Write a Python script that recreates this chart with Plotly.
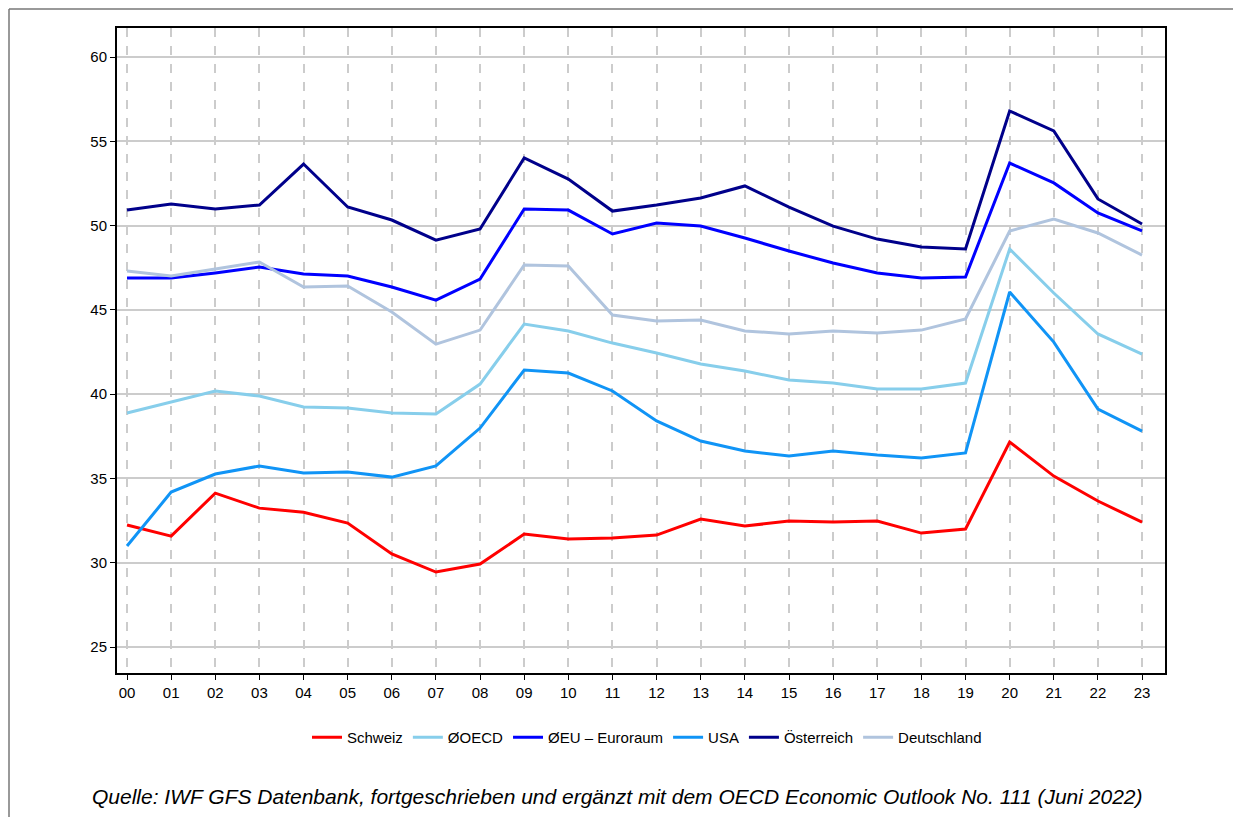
import plotly.graph_objects as go

years = ["00","01","02","03","04","05","06","07","08","09","10","11",
         "12","13","14","15","16","17","18","19","20","21","22","23"]

schweiz = [32.24,31.58,34.13,33.24,33.00,32.35,30.52,29.45,29.92,31.70,31.41,31.47,
           31.64,32.59,32.18,32.47,32.41,32.47,31.76,32.00,37.16,35.14,33.66,32.41]
oecd = [38.88,39.53,40.19,39.89,39.24,39.18,38.88,38.82,40.60,44.16,43.75,43.03,
        42.44,41.79,41.37,40.84,40.66,40.30,40.30,40.66,48.61,46.00,43.57,42.38]
eu = [46.89,46.89,47.19,47.54,47.13,47.01,46.36,45.58,46.83,50.98,50.92,49.50,
      50.15,49.97,49.26,48.49,47.78,47.19,46.89,46.95,53.71,52.53,50.75,49.68]
usa = [30.99,34.19,35.26,35.74,35.32,35.38,35.08,35.74,37.99,41.43,41.25,40.19,
       38.41,37.22,36.63,36.33,36.63,36.39,36.21,36.51,46.06,43.09,39.12,37.81]
oesterreich = [50.92,51.28,50.98,51.22,53.65,51.10,50.33,49.14,49.80,54.01,52.76,50.86,
               51.22,51.64,52.35,51.10,49.97,49.20,48.73,48.61,56.80,55.61,51.58,50.09]
deutschland = [47.31,47.01,47.42,47.84,46.36,46.42,44.87,42.97,43.80,47.66,47.60,44.69,
               44.34,44.40,43.75,43.57,43.75,43.63,43.80,44.46,49.68,50.39,49.56,48.25]

series = [
    ("Schweiz", schweiz, "#ff0000"),
    ("ØOECD", oecd, "#87ceeb"),
    ("ØEU – Euroraum", eu, "#0000ff"),
    ("USA", usa, "#1094f6"),
    ("Österreich", oesterreich, "#00008b"),
    ("Deutschland", deutschland, "#b0c4de"),
]

xs = list(range(len(years)))
fig = go.Figure()
for name, vals, col in series:
    fig.add_trace(go.Scatter(x=xs, y=vals, mode="lines", name=name,
                             line=dict(color=col, width=3)))

font = "Liberation Sans, Arial, sans-serif"
W, H = 1233, 809
L, T, R, B = 109, 20, 76, 144
PW, PH = W - L - R, H - T - B

fig.update_layout(
    width=W, height=H,
    margin=dict(l=L, r=R, t=T, b=B),
    paper_bgcolor="white", plot_bgcolor="white",
    font=dict(family=font, size=15, color="black"),
    showlegend=True,
    legend=dict(orientation="h", x=(639 - L) / PW, xanchor="center",
                y=-(713 - (H - B)) / PH, yanchor="top",
                font=dict(size=15), itemwidth=30, tracegroupgap=0),
    xaxis=dict(range=[-0.227, 23.52], tickmode="array", tickvals=xs, ticktext=years,
               showgrid=True, gridcolor="#cccccc", griddash="dash", gridwidth=1.5,
               showline=True, linecolor="black", linewidth=2, mirror=True,
               ticks="outside", ticklen=5, tickcolor="black", zeroline=False,
               tickfont=dict(size=15)),
    yaxis=dict(range=[23.46, 61.72], tickmode="array", tickvals=[25,30,35,40,45,50,55,60],
               showgrid=True, gridcolor="#cccccc", gridwidth=1.5,
               showline=True, linecolor="black", linewidth=2, mirror=True,
               ticks="outside", ticklen=5, tickcolor="black", zeroline=False,
               tickfont=dict(size=15)),
)

fig.add_annotation(text="<i>Quelle: IWF GFS Datenbank, fortgeschrieben und ergänzt mit dem OECD Economic Outlook No. 111 (Juni 2022)</i>",
                   xref="paper", yref="paper", x=(609 - L) / PW, y=-(788 - (H - B)) / PH,
                   xanchor="center", yanchor="middle", showarrow=False,
                   font=dict(size=21, family=font, color="black"))

ytop = 1 + (T - 1) / PH
xleft = -(L - 1) / PW
fig.add_shape(type="line", xref="paper", yref="paper",
              x0=xleft, x1=(W - L + 10) / PW, y0=ytop, y1=ytop,
              line=dict(color="#777777", width=1.5))
fig.add_shape(type="line", xref="paper", yref="paper",
              x0=xleft, x1=xleft, y0=ytop, y1=-(B + 10) / PH,
              line=dict(color="#777777", width=1.5))

fig.write_html("out.html")
